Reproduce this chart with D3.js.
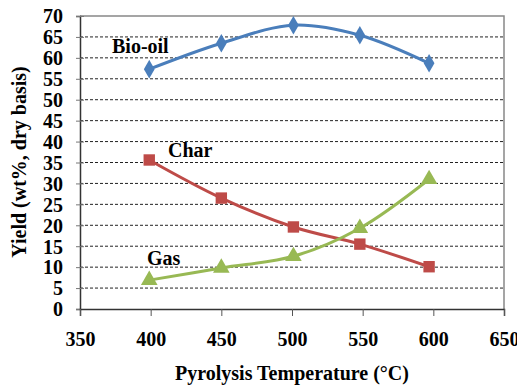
<!DOCTYPE html>
<html><head><meta charset="utf-8">
<script src="https://cdn.jsdelivr.net/npm/d3@7"></script>
<style>body{margin:0;background:#fff}svg{display:block}text{font-family:"Liberation Serif","Times New Roman",serif;font-weight:bold;fill:#000}</style>
</head><body><svg id="c" width="517" height="388" font-family="Liberation Serif"></svg>
<script>
const temps = [399, 450, 501, 548, 597];
const bioOil = [57.3, 63.5, 67.8, 65.4, 58.7];
const charY = [35.6, 26.5, 19.6, 15.5, 10.1];
const gas = [6.9, 9.8, 12.6, 19.3, 31.0];
const xTicks = [350, 400, 450, 500, 550, 600, 650];
const yTicks = d3.range(0, 71, 5);
const seriesNames = ["Bio-oil", "Char", "Gas"];

const svg = d3.select("#c");
const m = {l: 80, t: 16, r: 504, b: 309};
const x = d3.scaleLinear().domain([350, 650]).range([m.l, m.r]);
const y = d3.scaleLinear().domain([0, 70]).range([m.b, m.t]);

// grid
svg.append("g").selectAll("line").data(yTicks.filter(v => v > 0 && v < 70)).join("line")
  .attr("x1", m.l).attr("x2", m.r).attr("y1", d => y(d)).attr("y2", d => y(d))
  .attr("stroke", "#222").attr("stroke-width", 1).attr("stroke-dasharray", "3,2");
// frame top/right
svg.append("path").attr("d", `M${m.l},${m.t}H${m.r}V${m.b}`).attr("fill", "none").attr("stroke", "#888").attr("stroke-width", 1.5);

// axes
const yAxis = svg.append("g").attr("transform", `translate(${m.l},0)`)
  .call(d3.axisLeft(y).tickValues(yTicks).tickSize(4).tickPadding(13));
yAxis.attr("font-family", null);
yAxis.select(".domain").attr("stroke", "#333").attr("stroke-width", 1.5);
yAxis.selectAll(".tick line").attr("x2", 4).attr("x1", -4).attr("stroke", "#777");
yAxis.selectAll("text").style("font-size", "20px").attr("dy", "0.34em");

const xAxis = svg.append("g").attr("transform", `translate(0,${m.b})`)
  .call(d3.axisBottom(x).tickValues(xTicks).tickSize(7).tickPadding(16));
xAxis.attr("font-family", null);
xAxis.select(".domain").attr("stroke", "#333").attr("stroke-width", 1.5);
xAxis.selectAll("line").attr("stroke", "#555");
xAxis.selectAll("text").style("font-size", "20px");

// titles
svg.append("text").attr("x", 292).attr("y", 380).attr("text-anchor", "middle").style("font-size", "20px").text("Pyrolysis Temperature (°C)");
svg.append("text").attr("transform", "translate(26,162) rotate(-90)").attr("text-anchor", "middle").style("font-size", "20px").text("Yield (wt%, dry basis)");

const series = [
  {name: seriesNames[0], vals: bioOil, color: "#4a7ebb", sym: d3.symbolDiamond, size: 100, lx: 112, ly: 53},
  {name: seriesNames[1], vals: charY, color: "#be4b48", sym: d3.symbolSquare, size: 130, lx: 168, ly: 157},
  {name: seriesNames[2], vals: gas, color: "#98b954", sym: d3.symbolTriangle, size: 120, lx: 147, ly: 265}
];
const line = d3.line().x(d => x(d[0])).y(d => y(d[1])).curve(d3.curveCatmullRom.alpha(0.5));
series.forEach(s => {
  const pts = temps.map((t, i) => [t, s.vals[i]]);
  svg.append("path").attr("d", line(pts)).attr("fill", "none").attr("stroke", s.color).attr("stroke-width", 3);
  svg.append("g").selectAll("path").data(pts).join("path")
    .attr("transform", d => `translate(${x(d[0])},${y(d[1])})`)
    .attr("d", d3.symbol(s.sym, s.size)).attr("fill", s.color);
  svg.append("text").attr("x", s.lx).attr("y", s.ly).style("font-size", "20px").text(s.name);
});
</script></body></html>
